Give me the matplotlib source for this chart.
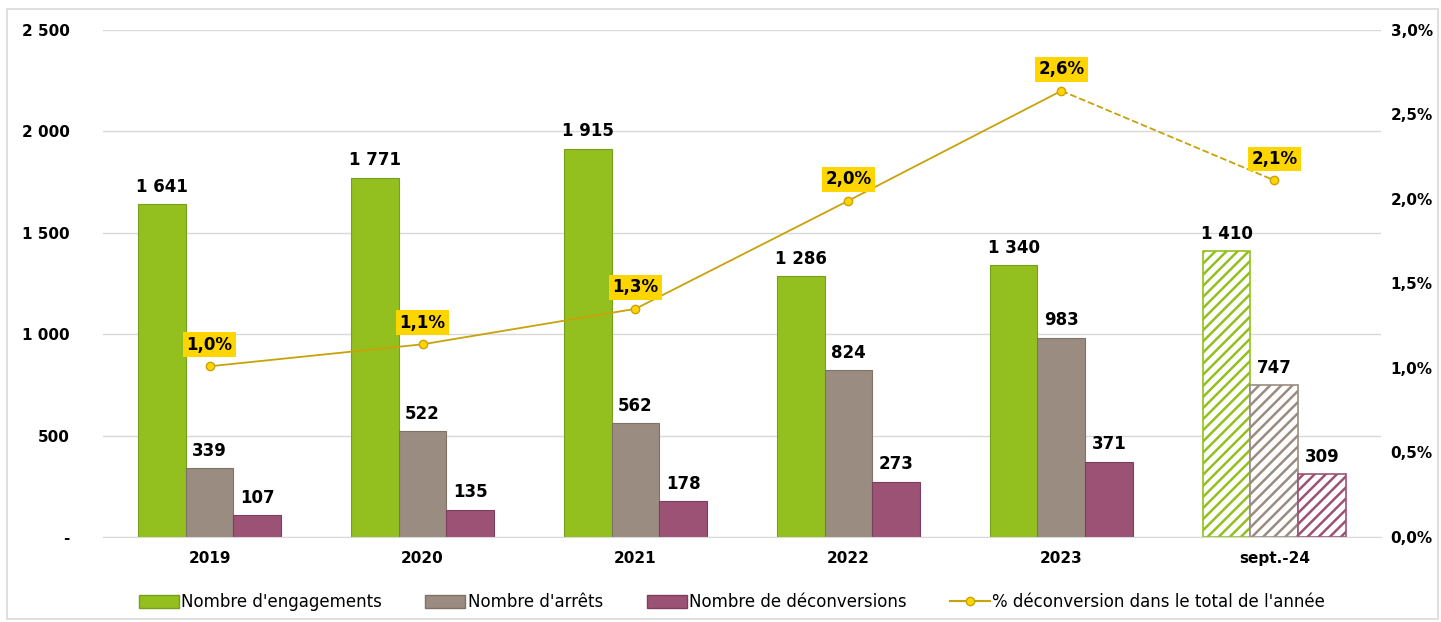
import numpy as np
import matplotlib
matplotlib.use('Agg')
import matplotlib.pyplot as plt
from matplotlib.patches import Rectangle
from matplotlib.lines import Line2D
from matplotlib.ticker import FuncFormatter

# Data
categories = ['2019', '2020', '2021', '2022', '2023', 'sept.-24']
engagements = [1641, 1771, 1915, 1286, 1340, 1410]
arrets = [339, 522, 562, 824, 983, 747]
deconversions = [107, 135, 178, 273, 371, 309]
pct_deconversion = [1.01, 1.14, 1.35, 1.99, 2.64, 2.11]
pct_labels = ['1,0%', '1,1%', '1,3%', '2,0%', '2,6%', '2,1%']

series_names = ["Nombre d'engagements", "Nombre d'arrêts", 'Nombre de déconversions']
line_name = "% déconversion dans le total de l'année"

green = '#93C01F'
grey = '#9A8C80'
purple = '#9B5275'
edges = ['#74A01A', '#7F7268', '#7E3F5E']
gold_line = '#C9A20A'
gold_box = '#FFD500'

plt.rcParams['font.family'] = ['DejaVu Sans']
plt.rcParams['hatch.linewidth'] = 1.8

fig = plt.figure(figsize=(14.41, 6.22), dpi=100)
ax = fig.add_axes([0.0715, 0.1367, 0.8868, 0.8151])
ax2 = ax.twinx()

x = np.arange(len(categories))
w = 0.225

def fmt_num(v):
    return f'{int(v):,}'.replace(',', ' ')

for i, (vals, col, ec) in enumerate(zip([engagements, arrets, deconversions],
                                        [green, grey, purple], edges)):
    pos = x + (i - 1) * w
    # full years plain, last (partial year) hatched
    ax.bar(pos[:-1], vals[:-1], w, color=col, edgecolor=ec, linewidth=0.8, zorder=2)
    ax.bar(pos[-1:], vals[-1:], w, facecolor='white', edgecolor=col, hatch='///',
           linewidth=1.2, zorder=2)
    for p, v in zip(pos, vals):
        ax.annotate(fmt_num(v), (p, v), xytext=(0, 6), textcoords='offset points',
                    ha='center', va='bottom', fontsize=12, fontweight='bold')

ax.set_xlim(-0.5, len(categories) - 0.5)
ax.set_ylim(0, 2500)
ax.set_yticks(np.arange(0, 2501, 500))
ax.yaxis.set_major_formatter(FuncFormatter(lambda v, p: '-' if v == 0 else fmt_num(v)))
ax.grid(axis='y', color='#D9D9D9', linewidth=1, zorder=0)
ax.set_axisbelow(True)
ax.set_xticks(x)
ax.set_xticklabels(categories, fontweight='bold', fontsize=11)
ax.tick_params(axis='both', length=0, labelsize=11)
ax.tick_params(axis='x', pad=10)
ax.tick_params(axis='y', pad=24)
for lab in ax.get_yticklabels():
    lab.set_fontweight('bold')
for s in ax.spines.values():
    s.set_visible(False)
ax.spines['bottom'].set_visible(True)
ax.spines['bottom'].set_color('#D9D9D9')

# percentage line: solid for full years, dashed to the partial year
ax2.plot(x[:-1], pct_deconversion[:-1], color=gold_line, linewidth=1.3, zorder=3)
ax2.plot(x[-2:], pct_deconversion[-2:], color=gold_line, linewidth=1.3, linestyle='--', zorder=3)
ax2.plot(x, pct_deconversion, linestyle='none', marker='o', markersize=6,
         markerfacecolor=gold_box, markeredgecolor=gold_line, zorder=4)
for xi, v, lab in zip(x, pct_deconversion, pct_labels):
    ax2.annotate(lab, (xi, v), xytext=(0, 9), textcoords='offset points',
                 ha='center', va='bottom', fontsize=12, fontweight='bold',
                 bbox=dict(boxstyle='square,pad=0.2', fc=gold_box, ec='none'))
ax2.set_ylim(0, 3.0)
ax2.set_yticks(np.arange(0, 3.01, 0.5))
ax2.yaxis.set_major_formatter(FuncFormatter(lambda v, p: f'{v:.1f}%'.replace('.', ',')))
ax2.tick_params(axis='y', length=0, labelsize=11, pad=7)
for lab in ax2.get_yticklabels():
    lab.set_fontweight('bold')
for s in ax2.spines.values():
    s.set_visible(False)

# legend
handles = [Rectangle((0, 0), 1, 1, fc=c, ec=e) for c, e in zip([green, grey, purple], edges)]
handles.append(Line2D([0], [0], color=gold_line, marker='o', markersize=6,
                      markerfacecolor=gold_box, markeredgecolor=gold_line))
fig.legend(handles, series_names + [line_name], loc='center', bbox_to_anchor=(0.508, 0.032),
           ncol=4, frameon=False, fontsize=12, handlelength=2.4, handleheight=0.8,
           handletextpad=0.15, columnspacing=2.6)

# outer frame
fig.patches.append(Rectangle((0.005, 0.005), 0.993, 0.98, transform=fig.transFigure,
                             fill=False, edgecolor='#D9D9D9', linewidth=1.2))

fig.savefig('out.png', dpi=100)
